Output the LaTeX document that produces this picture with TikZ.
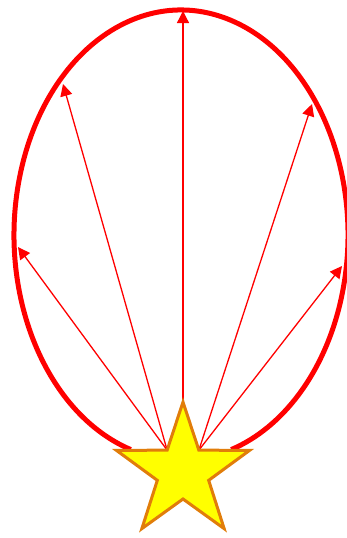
\documentclass[tikz,border=0pt]{standalone}
\usetikzlibrary{arrows.meta}
\definecolor{starfill}{RGB}{255,255,0}
\definecolor{staredge}{RGB}{225,125,10}
\definecolor{ovalred}{RGB}{255,0,0}
\tikzset{
  oval/.style={draw=ovalred, line width=5pt},
  ray/.style={draw=ovalred, line width=1.3pt, -{Triangle[length=12pt,width=12pt]}},
  starshape/.style={fill=starfill, draw=staredge, line width=3pt, line join=miter}
}
\begin{document}
\begin{tikzpicture}[x=1pt,y=-1pt]
\useasboundingbox (0,0) rectangle (347,538);
\clip (0,0) rectangle (347,538);
% ellipse centre
\coordinate (C) at (181,235);
% points on the oval where rays end
\coordinate (eL)  at (18,247);
\coordinate (eUL) at (63,84);
\coordinate (eT)  at (183,11);
\coordinate (eUR) at (312,104);
\coordinate (eR)  at (342,266);
% star points
\coordinate (sT)  at (183,402);
\coordinate (iR)  at (198.87,450.16);
\coordinate (oR)  at (249.57,450.37);
\coordinate (iRl) at (208.68,480.34);
\coordinate (oBR) at (224.14,528.63);
\coordinate (iB)  at (183,499);
\coordinate (oBL) at (141.86,528.63);
\coordinate (iLl) at (157.32,480.34);
\coordinate (oL)  at (116.43,450.37);
\coordinate (iL)  at (167.13,450.16);
% oval (open at the bottom)
\draw[oval] (C) ++(107.5:167 and 225) arc[start angle=107.5, end angle=432.5, x radius=167, y radius=225];
% rays
\draw[ray] (iL) -- (eL);
\draw[ray] (iL) -- (eUL);
\draw[ray] (sT) -- (eT);
\draw[ray] (iR) -- (eUR);
\draw[ray] (iR) -- (eR);
% star
\path[starshape] (sT) -- (iR) -- (oR) -- (iRl) -- (oBR) -- (iB) -- (oBL) -- (iLl) -- (oL) -- (iL) -- cycle;
\end{tikzpicture}
\end{document}
